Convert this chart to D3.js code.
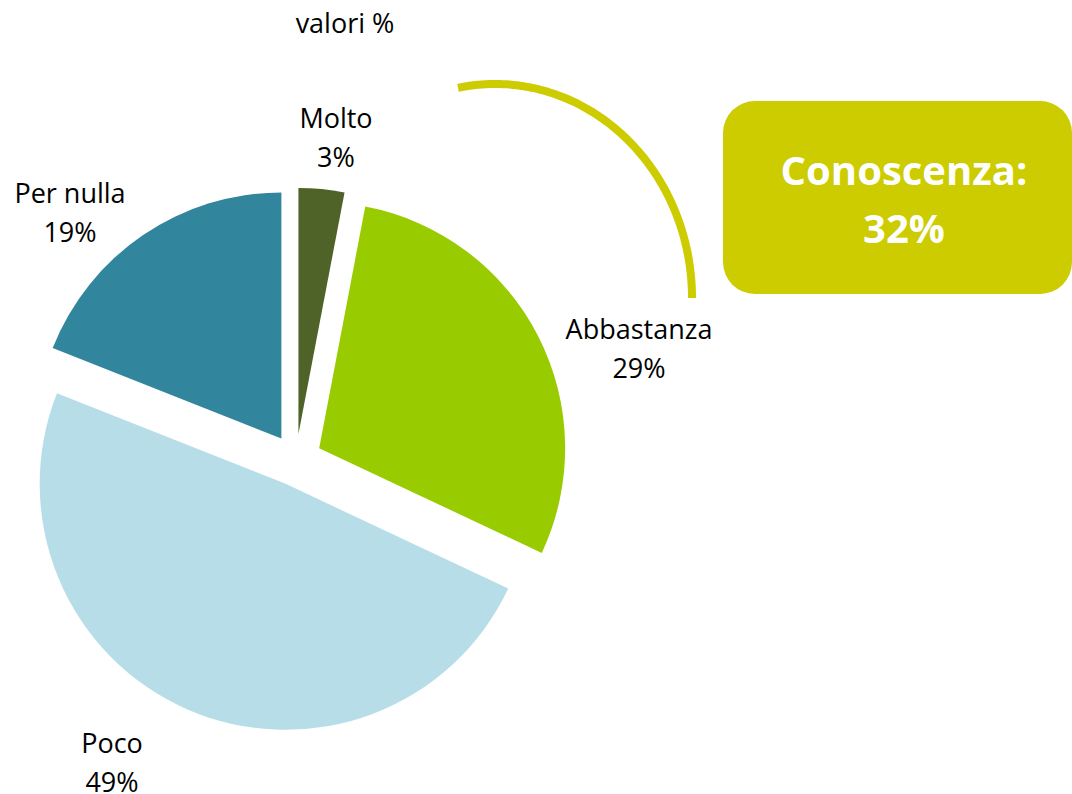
<!DOCTYPE html>
<html>
<head>
<meta charset="utf-8">
<script src="https://cdn.jsdelivr.net/npm/d3@7"></script>
<style>
  body { margin: 0; background: #fff; }
  svg { display: block; font-family: "Open Sans", sans-serif; }
</style>
</head>
<body>
<div id="chart"></div>
<script>
// data
const categories = ["Molto", "Abbastanza", "Poco", "Per nulla"];
const values = [3, 29, 49, 19];
const colors = ["#4F6228", "#99CC00", "#B7DEE8", "#31859C"];
const title = "valori %";
const summaryLabel = "Conoscenza:";
const summaryValue = "32%";

const W = 1072, H = 794;
const pieCfg = { cx: 296, cy: 460, r: 246, explode: 26 };

// label anchors (centre x, first baseline y), Excel places these freely
const labelPos = {
  "Molto":      [336, 128],
  "Abbastanza": [639, 339],
  "Poco":       [112, 753],
  "Per nulla":  [70, 203]
};

const svg = d3.select("#chart").append("svg")
    .attr("width", W)
    .attr("height", H);

svg.append("text")
    .attr("x", 345).attr("y", 33)
    .attr("text-anchor", "middle")
    .style("font-size", "27px")
    .style("fill", "#000")
    .text(title);

const pie = d3.pie().sort(null).value(d => d.value);
const arc = d3.arc().innerRadius(0).outerRadius(pieCfg.r);
const data = categories.map((c, i) => ({ name: c, value: values[i], color: colors[i] }));
const arcs = pie(data);

const g = svg.append("g")
    .attr("transform", `translate(${pieCfg.cx},${pieCfg.cy})`);

g.selectAll("path")
    .data(arcs)
    .enter()
    .append("path")
    .attr("d", arc)
    .attr("fill", d => d.data.color)
    .attr("transform", d => {
        const a = (d.startAngle + d.endAngle) / 2;
        return `translate(${Math.sin(a) * pieCfg.explode},${-Math.cos(a) * pieCfg.explode})`;
    });

const total = d3.sum(values);
const labels = svg.selectAll(".lbl")
    .data(arcs)
    .enter()
    .append("text")
    .attr("class", "lbl")
    .attr("text-anchor", "middle")
    .style("font-size", "27px")
    .style("fill", "#000");
labels.append("tspan")
    .attr("x", d => labelPos[d.data.name][0])
    .attr("y", d => labelPos[d.data.name][1])
    .text(d => d.data.name);
labels.append("tspan")
    .attr("x", d => labelPos[d.data.name][0])
    .attr("y", d => labelPos[d.data.name][1] + 39)
    .text(d => Math.round(d.data.value / total * 100) + "%");

// decorative arc spanning Molto + Abbastanza
const ell = { cx: 495, cy: 298, rx: 197, ry: 214 };
const startA = Math.asin((458 - ell.cx) / ell.rx);
const pts = d3.range(0, 101).map(i => {
    const a = startA + (Math.PI / 2 - startA) * i / 100;
    return [ell.cx + ell.rx * Math.sin(a), ell.cy - ell.ry * Math.cos(a)];
});
svg.append("path")
    .attr("d", d3.line()(pts))
    .attr("fill", "none")
    .attr("stroke", "#CCCC00")
    .attr("stroke-width", 8);

// summary box
svg.append("rect")
    .attr("x", 723).attr("y", 101)
    .attr("width", 349).attr("height", 193)
    .attr("rx", 32).attr("ry", 32)
    .attr("fill", "#CCCC00");
const box = svg.append("text")
    .attr("text-anchor", "middle")
    .style("font-size", "40px")
    .style("font-weight", "bold")
    .style("fill", "#fff");
box.append("tspan").attr("x", 904).attr("y", 185).text(summaryLabel);
box.append("tspan").attr("x", 904).attr("y", 243).text(summaryValue);
</script>
</body>
</html>
